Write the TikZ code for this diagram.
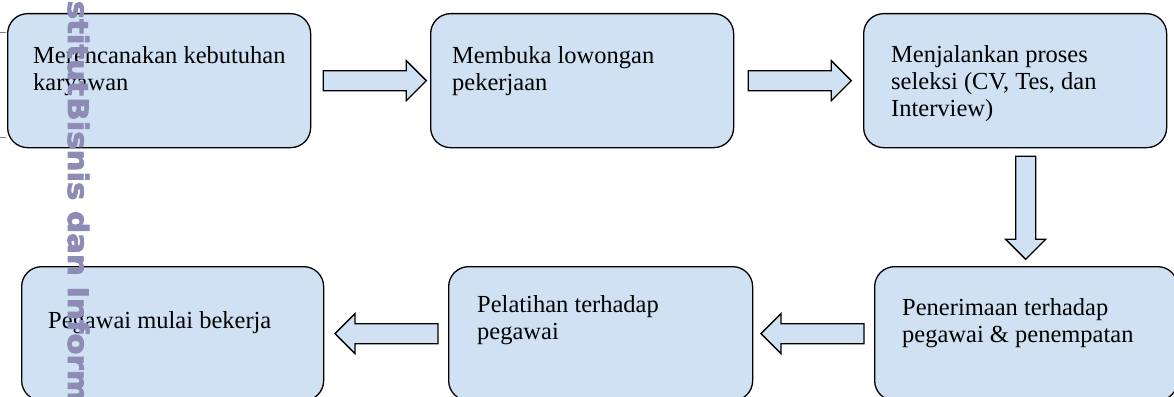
\documentclass[tikz,border=0pt]{standalone}
\usepackage{fontspec}
\setmainfont{Liberation Serif}
\newfontfamily\wmfont{DejaVu Sans}[BoldFont={DejaVu Sans Bold}, BoldFeatures={FakeBold=3}]
\usetikzlibrary{calc}
\definecolor{boxblue}{HTML}{CFE1F2}
\definecolor{wmcol}{HTML}{8C8CB4}
\tikzset{
  box/.style={draw=black, line width=1.3pt, fill=boxblue, rounded corners=20pt,
    rectangle, inner sep=0pt, anchor=north west, minimum height=134pt},
  txt/.style={inner sep=0pt, anchor=base west, align=left,
    font=\fontsize{24.5}{27}\selectfont},
  arrowbox/.style={draw=black, line width=1.3pt, fill=boxblue, line join=miter},
  barrow/.pic={\draw[arrowbox] (0,-10) -- (83,-10) -- (83,-20) -- (103,0) -- (83,20) -- (83,10) -- (0,10) -- cycle;},
  wm/.style={inner sep=0pt, text=wmcol, rotate=-90,
    font=\wmfont\bfseries\fontsize{28}{30}\selectfont},
}
\begin{document}
\begin{tikzpicture}[x=1pt,y=-1pt]
\useasboundingbox (0,0) rectangle (1174,396);
% boxes
\node[box, minimum width=303pt] (b1) at (7,13) {};
\node[box, minimum width=303pt] (b2) at (430,13) {};
\node[box, minimum width=303pt] (b3) at (863,13) {};
\node[box, minimum width=303pt] (b4) at (874,266) {};
\node[box, minimum width=304pt] (b5) at (448,266) {};
\node[box, minimum width=302pt] (b6) at (21,266) {};
% texts (anchor = baseline of the last line)
\node[txt] (t1) at (33,90) {Merencanakan kebutuhan\\karyawan};
\node[txt] (t2) at (452,90) {Membuka lowongan\\pekerjaan};
\node[txt] (t3) at (891,116) {Menjalankan proses\\seleksi (CV, Tes, dan\\Interview)};
\node[txt] (t4) at (902,342) {Penerimaan terhadap\\pegawai \& penempatan};
\node[txt] (t5) at (477,339) {Pelatihan terhadap\\pegawai};
\node[txt] (t6) at (48,328) {Pegawai mulai bekerja};
% block arrows
\pic at ($(b1.east)+(12,0)$) {barrow};
\pic at ($(b2.east)+(14,0)$) {barrow};
\pic[rotate=-90] at ($(b3.south)+(10.5,8)$) {barrow};
\pic[rotate=180] at ($(b4.west)+(-10,0)$) {barrow};
\pic[rotate=180] at ($(b5.west)+(-10,0)$) {barrow};
% watermark
\node[wm, anchor=base east] (wm1) at (68,96) {\scalebox{1.1}[1]{Institut}};
\node[wm, anchor=base west] (wm2) at (68,97) {\scalebox{1.1}[1]{Bisnis dan Informatika Kwik Kian Gie}};
% edge ticks
\draw[gray, line width=0.8pt] (0,32) -- (6,32);
\draw[gray, line width=0.8pt] (0,137) -- (6,137);
\end{tikzpicture}
\end{document}
